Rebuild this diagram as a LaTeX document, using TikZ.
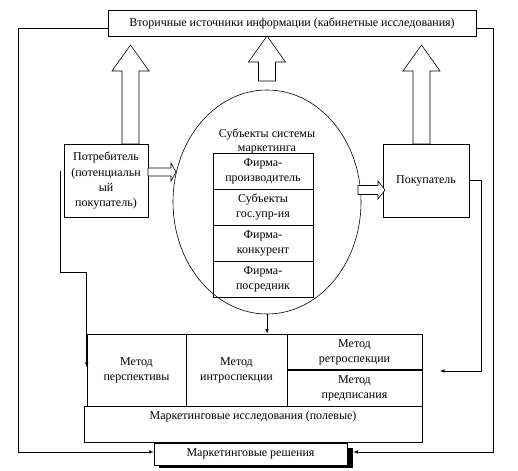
\documentclass[tikz,border=0pt]{standalone}
\usepackage{fontspec}
\setmainfont{Liberation Serif}
\usepackage{tikz}
\usetikzlibrary{arrows,shapes}

\begin{document}
\begin{tikzpicture}[x=1pt, y=-1pt, >=latex, line width=0.6pt, inner sep=2pt]

      \useasboundingbox (0,0) rectangle (518,470);

      \tikzstyle{every node}=[font=\fontsize{12}{15}\selectfont]
      \tikzstyle{box}=[draw, align=center]
      \tikzstyle{cell}=[draw, align=center, minimum height=36pt]

      % upper part
      \node[box, minimum width=368pt, minimum height=26pt] (vtor) at (292,23) {Вторичные источники информации (кабинетные исследования)};
      \node[box, minimum width=84pt, minimum height=73pt] (potr) at (106,180.5) {Потребитель\\(потенциальн\\ый\\покупатель)};
      \node[box, minimum width=86pt, minimum height=73pt] (pokup) at (426,180.5) {Покупатель};
      \node[draw, ellipse, minimum width=188pt, minimum height=224pt] (ell) at (267,202) {};
      \node[align=center, font=\fontsize{12}{14}\selectfont] (subj) at (267,141) {Субъекты системы\\маркетинга};
      \node[cell, minimum width=100pt] (f1) at (263,171) {Фирма-\\производитель};
      \node[cell, minimum width=100pt] (f2) at (263,207) {Субъекты\\гос.упр-ия};
      \node[cell, minimum width=100pt] (f3) at (263,243) {Фирма-\\конкурент};
      \node[cell, minimum width=100pt] (f4) at (263,279) {Фирма-\\посредник};

      % block arrows
      \foreach \cx/\yb/\yh/\yt in {130.5/144/71/45, 267/81/62/36, 421.5/144/71/45}
        \draw[fill=white] (\cx-8.5,\yb) -- (\cx-8.5,\yh) -- (\cx-18.5,\yh) -- (\cx,\yt)
          -- (\cx+18.5,\yh) -- (\cx+8.5,\yh) -- (\cx+8.5,\yb) -- cycle;
      \draw[fill=white] (148,168) -- (171,168) -- (171,163) -- (176,172) -- (171,181) -- (171,176) -- (148,176) -- cycle;
      \draw[fill=white] (358,185.5) -- (378,185.5) -- (378,181) -- (385,190) -- (378,199) -- (378,194.5) -- (358,194.5) -- cycle;

      % lower part
      \node[box, minimum width=338pt, minimum height=36pt] (pole) at (253,424) {};
      \node (poletxt) at (253,417) {Маркетинговые исследования (полевые)};
      \node[draw, minimum width=99pt, minimum height=72pt, align=center] (m1) at (136.5,370) {Метод\\перспективы};
      \node[draw, minimum width=101pt, minimum height=72pt, align=center] (m2) at (236.5,370) {Метод\\интроспекции};
      \node[cell, minimum width=135pt] (m3) at (354.5,352) {Метод\\ретроспекции};
      \node[cell, minimum width=135pt] (m4) at (354.5,388) {Метод\\предписания};
      \draw[line width=1.8pt] (m3.south west) -- (m3.south east);

      \fill (159,448) rectangle (353,468);
      \node[box, fill=white, minimum width=193pt, minimum height=22pt] (resh) at (250.5,454) {Маркетинговые решения};

      % connectors
      \coordinate (lo) at (18,452);
      \coordinate (ro) at (493,452);
      \coordinate (li) at (60,171);
      \coordinate (ri) at (440,371);
      \draw[->] ([yshift=-5pt]vtor.west) -| (lo) -- (resh.west |- lo);
      \draw[->] ([yshift=-5pt]vtor.east) -| (ro) -- ([xshift=6pt]resh.east |- ro);
      \draw[->] (li) -- (60,272) -- (m1.west |- 0,272) -- ([yshift=3pt]m1.west);
      \draw[->] (pokup.east) -| (481,371) -- (ri);
      \draw[->] (ell.south) -- (ell.south |- m2.north);
    \end{tikzpicture}
\end{document}
